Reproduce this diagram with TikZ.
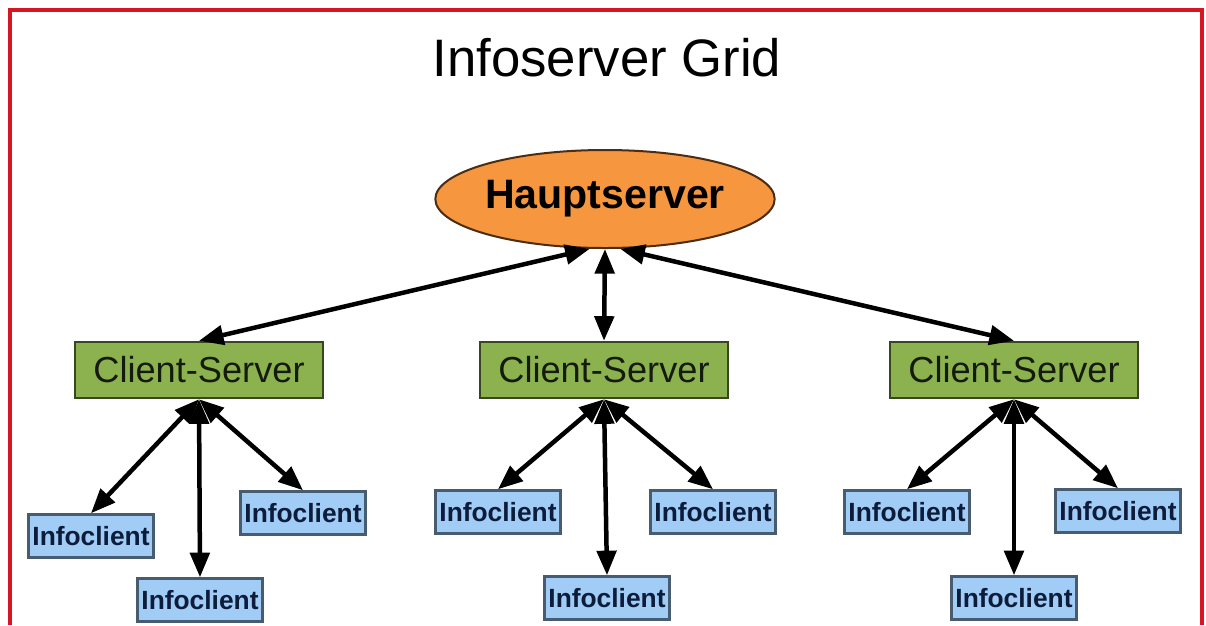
\documentclass[tikz,border=0pt]{standalone}
\usepackage{fontspec}
\setmainfont{Liberation Sans}
\usetikzlibrary{arrows.meta, positioning, shapes.geometric}
\definecolor{frame}{RGB}{214,22,34}
\definecolor{orange}{RGB}{246,150,62}
\definecolor{green}{RGB}{140,178,80}
\definecolor{blue}{RGB}{160,204,246}
\definecolor{navy}{RGB}{12,28,58}
\tikzstyle{main-server}=[ellipse, fill=orange, draw=black!70!orange, line width=0.2mm, inner sep=0, minimum width=3.3cm, minimum height=0.98cm, font=\fontsize{11.7}{14}\selectfont\bfseries]
\tikzstyle{client-server}=[rectangle, fill=green, draw=black!60!green, line width=0.25mm, inner sep=0, minimum width=2.48cm, minimum height=0.56cm, text=black!85!green, font=\fontsize{10.3}{12}\selectfont]
\tikzstyle{info-client}=[rectangle, fill=blue, draw=black!55!blue, line width=0.25mm, inner sep=0, minimum width=1.25cm, minimum height=0.43cm, text=navy, font=\fontsize{7.5}{9}\selectfont\bfseries]
\tikzstyle{link}=[{Triangle[length=7pt,width=5.5pt]}-{Triangle[length=7pt,width=5.5pt]}, line width=0.45mm]

\begin{document}
\begin{tikzpicture}

\useasboundingbox (0,0) rectangle (12.06,6.25);
\draw [frame, line width=0.4mm] (0.10,0) -- (0.10,6.15) -- (12.02,6.15) -- (12.02,0);

\node (title) at (6.07,5.67) {\fontsize{15}{18}\selectfont Infoserver Grid};
\node[main-server] (haupt) at (6.05,4.26) {Hauptserver};

\node[client-server] (cs1) at (1.99,2.55) {Client-Server};
\node[client-server] (cs2) at (6.04,2.55) {Client-Server};
\node[client-server] (cs3) at (10.14,2.55) {Client-Server};

\node[info-client] (ic1a) at (0.91,0.89) {Infoclient};
\node[info-client] (ic1b) at (2.00,0.25) {Infoclient};
\node[info-client] (ic1c) at (3.03,1.12) {Infoclient};

\node[info-client] (ic2a) at (4.98,1.13) {Infoclient};
\node[info-client] (ic2b) at (6.07,0.27) {Infoclient};
\node[info-client] (ic2c) at (7.13,1.13) {Infoclient};

\node[info-client] (ic3a) at (9.07,1.13) {Infoclient};
\node[info-client] (ic3b) at (10.14,0.27) {Infoclient};
\node[info-client] (ic3c) at (11.18,1.14) {Infoclient};

\draw [link] (haupt.-107) -- (cs1.north);
\draw [link] (haupt.south) -- (cs2.north);
\draw [link] (haupt.-73) -- (cs3.north);

\foreach \g in {1,2,3}
{
  \draw [link] (cs\g.south) -- (ic\g a.north);
  \draw [link] (cs\g.south) -- (ic\g b.north);
  \draw [link] (cs\g.south) -- (ic\g c.north);
}
\end{tikzpicture}
\end{document}
